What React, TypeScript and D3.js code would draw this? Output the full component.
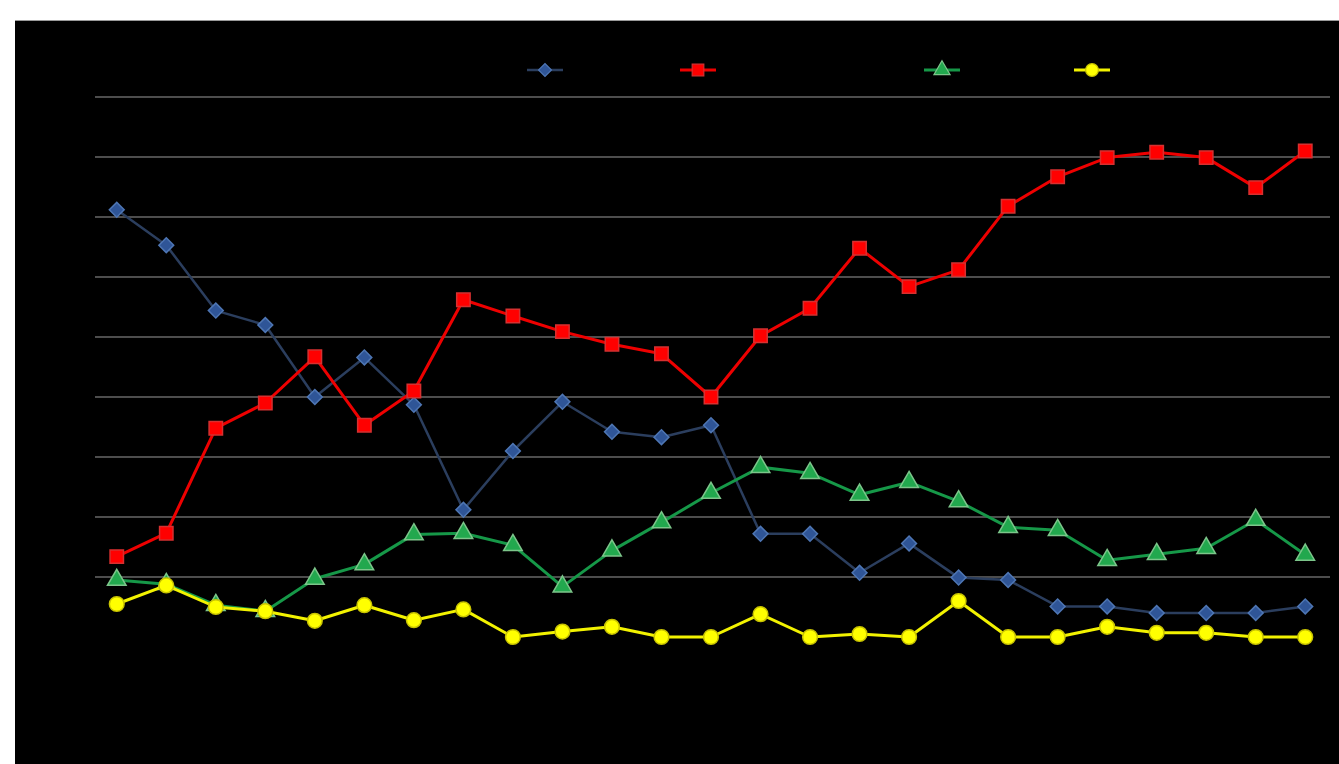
import React, { useEffect, useRef } from "react";
import * as d3 from "d3";

const categories: string[] = Array.from({ length: 25 }, (_, i) => String(i + 1));

const blueValues = [71.2, 65.3, 54.4, 52.0, 40.0, 46.6, 38.7, 21.2, 31.0, 39.2, 34.2, 33.3, 35.3, 17.2, 17.2, 10.7, 15.6, 9.9, 9.5, 5.1, 5.1, 4.0, 4.0, 4.0, 5.1];
const redValues = [13.4, 17.3, 34.8, 39.0, 46.7, 35.3, 41.0, 56.2, 53.5, 50.9, 48.8, 47.2, 40.0, 50.2, 54.8, 64.8, 58.4, 61.2, 71.8, 76.7, 79.9, 80.8, 79.9, 74.9, 81.0];
const greenValues = [9.5, 8.8, 5.3, 4.3, 9.7, 12.1, 17.1, 17.3, 15.3, 8.4, 14.4, 19.1, 24.0, 28.3, 27.3, 23.7, 25.8, 22.6, 18.3, 17.8, 12.8, 13.8, 14.8, 19.5, 13.7];
const yellowValues = [5.5, 8.6, 5.0, 4.3, 2.7, 5.3, 2.8, 4.6, 0.0, 0.9, 1.7, 0.0, 0.0, 3.8, 0.0, 0.5, 0.0, 6.0, 0.0, 0.0, 1.7, 0.7, 0.7, 0.0, 0.0];

const gridTicks = [10, 20, 30, 40, 50, 60, 70, 80, 90];

type SeriesDef = {
  key: string;
  values: number[];
  line: string;
  fill: string;
  stroke: string;
  width: number;
  symbol: d3.SymbolType;
  size: number;
  rotate: number;
  legendX: number;
};

const series: SeriesDef[] = [
  { key: "blue", values: blueValues, line: "#2b3e5e", fill: "#2f5597", stroke: "#4e76b4", width: 2.5, symbol: d3.symbolSquare, size: 110, rotate: 45, legendX: 545 },
  { key: "red", values: redValues, line: "#ee0000", fill: "#ff0000", stroke: "#d63030", width: 3, symbol: d3.symbolSquare, size: 180, rotate: 0, legendX: 698 },
  { key: "green", values: greenValues, line: "#169848", fill: "#22a84e", stroke: "#7cc58a", width: 3, symbol: d3.symbolTriangle, size: 150, rotate: 0, legendX: 942 },
  { key: "yellow", values: yellowValues, line: "#f2f200", fill: "#ffff00", stroke: "#c9c400", width: 3, symbol: d3.symbolCircle, size: 170, rotate: 0, legendX: 1092 },
];

export default function App() {
  const ref = useRef<SVGSVGElement | null>(null);

  useEffect(() => {
    const svg = d3.select(ref.current);
    svg.selectAll("*").remove();
    const W = 1339;
    const H = 764;

    svg.append("rect").attr("x", 0).attr("y", 0).attr("width", W).attr("height", H).attr("fill", "#ffffff");
    svg.append("rect").attr("x", 15).attr("y", 20).attr("width", W - 15).attr("height", H - 20).attr("fill", "#000000");
    svg.append("line").attr("x1", 15).attr("x2", W).attr("y1", 20.5).attr("y2", 20.5).attr("stroke", "#9a9a9a").attr("stroke-width", 1);

    const x = d3.scalePoint<string>().domain(categories).range([92, 1330]).padding(0.5);
    const y = d3.scaleLinear().domain([0, 90]).range([637, 97]);

    const grid = svg.append("g");
    grid.selectAll("line")
      .data(gridTicks)
      .enter()
      .append("line")
      .attr("x1", 95)
      .attr("x2", 1330)
      .attr("y1", (d) => y(d))
      .attr("y2", (d) => y(d))
      .attr("stroke", "#4d4d4d")
      .attr("stroke-width", 2);

    const lineGen = d3.line<number>()
      .x((_, i) => x(categories[i]) as number)
      .y((d) => y(d));

    series.forEach((s) => {
      const g = svg.append("g");
      g.append("path")
        .attr("d", lineGen(s.values) as string)
        .attr("fill", "none")
        .attr("stroke", s.line)
        .attr("stroke-width", s.width)
        .attr("stroke-linejoin", "round");
      const sym = d3.symbol().type(s.symbol).size(s.size)();
      g.selectAll("path.m")
        .data(s.values)
        .enter()
        .append("path")
        .attr("class", "m")
        .attr("d", sym as string)
        .attr("transform", (d, i) => {
          const cx = x(categories[i]) as number;
          const cy = y(d);
          return `translate(${cx},${cy}) rotate(${s.rotate})`;
        })
        .attr("fill", s.fill)
        .attr("stroke", s.stroke)
        .attr("stroke-width", 1.5);

      // legend entry
      const ly = 70;
      g.append("line")
        .attr("x1", s.legendX - 18)
        .attr("x2", s.legendX + 18)
        .attr("y1", ly)
        .attr("y2", ly)
        .attr("stroke", s.line)
        .attr("stroke-width", s.width);
      g.append("path")
        .attr("d", d3.symbol().type(s.symbol).size(s.size * 0.75)() as string)
        .attr("transform", `translate(${s.legendX},${ly}) rotate(${s.rotate})`)
        .attr("fill", s.fill)
        .attr("stroke", s.stroke)
        .attr("stroke-width", 1.2);
    });
  }, []);

  return (
    <svg
      ref={ref}
      width={1339}
      height={764}
      style={{ position: "absolute", left: 0, top: 0, display: "block" }}
    />
  );
}
